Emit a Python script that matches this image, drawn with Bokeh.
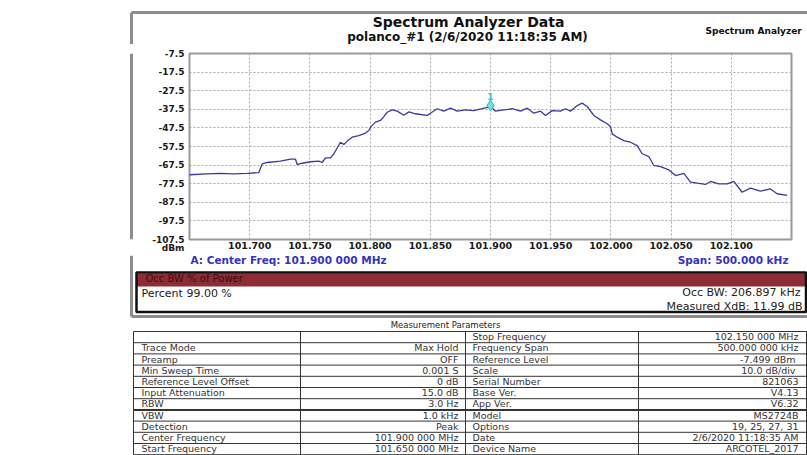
from bokeh.plotting import figure
from bokeh.models import FixedTicker, Range1d
from bokeh.layouts import column, row
from bokeh.embed import file_html
from bokeh.resources import INLINE
from bokeh.core.properties import value

# ---------------- data ----------------
freq_mhz = [101.650, 101.6647, 101.6757, 101.6868, 101.6979, 101.7076, 101.7104, 101.7145, 101.7256, 101.7339,
            101.7380, 101.7394, 101.7436, 101.7505, 101.7574, 101.7602, 101.7630, 101.7671, 101.7699, 101.7754,
            101.7782, 101.7810, 101.7851, 101.7906, 101.7962, 101.7989, 101.8009, 101.8045, 101.8086, 101.8114,
            101.8142, 101.8184, 101.8225, 101.8280, 101.8322, 101.8377, 101.8419, 101.8474, 101.8557, 101.8612,
            101.8668, 101.8723, 101.8792, 101.8861, 101.8931, 101.9000, 101.9042, 101.9111, 101.9180, 101.9249,
            101.9305, 101.9360, 101.9416, 101.9457, 101.9513, 101.9581, 101.9623, 101.9664, 101.9720, 101.9761,
            101.9803, 101.9858, 101.9913, 101.9969, 101.9996, 102.0011, 102.0052, 102.0107, 102.0163, 102.0218,
            102.0260, 102.0315, 102.0356, 102.0412, 102.0481, 102.0537, 102.0606, 102.0661, 102.0717, 102.0786,
            102.0827, 102.0896, 102.0966, 102.1021, 102.1090, 102.1159, 102.1242, 102.1325, 102.1381, 102.1464]
level_dbm = [-72.7, -72.2, -71.9, -72.2, -72.0, -71.5, -66.8, -66.1, -65.4, -64.3,
             -64.3, -67.2, -66.5, -65.7, -65.4, -66.1, -63.6, -63.6, -61.4, -55.2,
             -56.4, -54.6, -52.5, -51.6, -50.3, -48.9, -46.7, -44.4, -43.5, -41.4,
             -39.1, -37.8, -38.5, -40.7, -38.9, -39.9, -40.3, -40.8, -37.2, -38.5,
             -36.9, -38.5, -37.8, -38.2, -37.1, -36.0, -38.5, -37.8, -37.2, -38.5,
             -36.9, -39.6, -38.5, -40.8, -38.2, -38.5, -37.2, -38.5, -35.5, -34.2,
             -36.0, -40.8, -43.2, -45.3, -46.7, -50.7, -52.5, -54.3, -55.2, -57.0,
             -61.4, -62.9, -67.7, -68.3, -70.1, -73.1, -71.9, -76.7, -77.2, -77.9,
             -76.3, -77.6, -77.6, -76.2, -82.1, -79.9, -81.5, -80.3, -82.9, -83.8]
marker_freq = [101.900]
marker_level = [-35.5]
marker_names = ["1"]

x_ticks = [101.70, 101.75, 101.80, 101.85, 101.90, 101.95, 102.00, 102.05, 102.10]
y_ticks = [-7.5, -17.5, -27.5, -37.5, -47.5, -57.5, -67.5, -77.5, -87.5, -97.5, -107.5]
y_unit = "dBm"

title_text = "Spectrum Analyzer Data"
subtitle_text = "polanco_#1 (2/6/2020 11:18:35 AM)"
corner_text = "Spectrum Analyzer"
center_text = "A: Center Freq: 101.900 000 MHz"
span_text = "Span: 500.000 kHz"

occ_header = "Occ BW % of Power"
occ_percent = "Percent 99.00 %"
occ_bw = "Occ BW: 206.897 kHz"
occ_xdb = "Measured XdB: 11.99 dB"

table_title = "Measurement Parameters"
param_names_left = ["", "Trace Mode", "Preamp", "Min Sweep Time", "Reference Level Offset", "Input Attenuation",
                    "RBW", "VBW", "Detection", "Center Frequency", "Start Frequency"]
param_values_left = ["", "Max Hold", "OFF", "0.001 S", "0 dB", "15.0 dB",
                     "3.0 Hz", "1.0 kHz", "Peak", "101.900 000 MHz", "101.650 000 MHz"]
param_names_right = ["Stop Frequency", "Frequency Span", "Reference Level", "Scale", "Serial Number", "Base Ver.",
                     "App Ver.", "Model", "Options", "Date", "Device Name"]
param_values_right = ["102.150 000 MHz", "500.000 000 kHz", "-7.499  dBm", "10.0  dB/div", "821063", "V4.13",
                      "V6.32", "MS2724B", "19, 25, 27, 31", "2/6/2020 11:18:35 AM", "ARCOTEL_2017"]

FONT = "DejaVu Sans"
GRAY = "#8c8c8c"


def decor(w, h, x0, y0):
    f = figure(width=w, height=h, x_range=Range1d(x0, x0 + w), y_range=Range1d(y0 + h, y0),
               x_axis_type=None, y_axis_type=None, output_backend="svg", toolbar_location=None,
               min_border=0, min_border_left=0, min_border_right=0, min_border_top=0, min_border_bottom=0)
    f.outline_line_color = None
    f.background_fill_color = "white"
    f.border_fill_color = "white"
    return f


def txt(f, x, y, s, size="9px", color="#222222", align="left", style="normal"):
    f.text(x=[x], y=[y], text=[s], text_font=value(FONT), text_font_size=size, text_color=color,
           text_align=align, text_baseline="middle", text_font_style=style)


# ---------------- header ----------------
hd = decor(807, 44, 0, 0)
hd.line([131, 807], [12, 12], line_color=GRAY, line_width=3)
hd.line([131, 131], [12, 44], line_color=GRAY, line_width=3)
txt(hd, 468, 21, title_text, size="14px", color="#111111", align="center", style="bold")
txt(hd, 467, 36, subtitle_text, size="12px", color="#111111", align="center", style="bold")
txt(hd, 705, 30, corner_text, size="9px", color="#111111", style="bold")

# ---------------- left strip ----------------
ld = decor(145, 211, 0, 44)
ld.line([131, 131], [44, 255], line_color=GRAY, line_width=3)

# ---------------- chart ----------------
p = figure(width=662, height=211, x_range=Range1d(101.65, 102.15), y_range=Range1d(-107.5, -7.5),
           output_backend="svg", toolbar_location=None,
           min_border_left=44, min_border_right=16, min_border_top=9, min_border_bottom=16)
p.background_fill_color = "white"
p.border_fill_color = "white"
p.outline_line_color = "#9a9a9a"
p.outline_line_width = 2

p.xaxis.ticker = FixedTicker(ticks=x_ticks)
p.yaxis.ticker = FixedTicker(ticks=y_ticks)
for ax in (p.xaxis[0], p.yaxis[0]):
    ax.axis_line_color = None
    ax.major_tick_line_color = None
    ax.minor_tick_line_color = None
    ax.major_tick_out = 0
    ax.major_tick_in = 0
    ax.major_label_text_font = FONT
    ax.major_label_text_font_style = "bold"
    ax.major_label_text_color = "#1a1a1a"
p.xaxis.major_label_text_font_size = "9.5px"
p.yaxis.major_label_text_font_size = "9px"
p.yaxis.major_label_text_line_height = 0.88
p.xaxis.major_label_standoff = 2
p.yaxis.major_label_standoff = 5
p.xaxis.major_label_overrides = {t: f"{t:.3f}" for t in x_ticks}
ylab = {t: f"{t:.1f}" for t in y_ticks}
ylab[y_ticks[-1]] = f"\n{y_ticks[-1]:.1f}\n{y_unit}"
p.yaxis.major_label_overrides = ylab

for g in (p.xgrid[0], p.ygrid[0]):
    g.grid_line_color = "#a8a8a8"
    g.grid_line_dash = "2 2"
    g.grid_line_width = 1

p.line(freq_mhz, level_dbm, line_color="#3a3a9e", line_width=1.3)
p.scatter(marker_freq, marker_level, marker="diamond", size=11,
          fill_color="#6fe0e0", line_color="#2fb5c5", line_width=1)
p.text(marker_freq, [l + 5 for l in marker_level], text=marker_names,
       text_color="#2fc0c8", text_font=value(FONT), text_font_size="9px", text_font_style="bold",
       text_align="center", text_baseline="middle")

# ---------------- bottom part ----------------
bt = decor(807, 200, 0, 255)
bt.line([131, 131], [255, 316], line_color=GRAY, line_width=3)
bt.line([131, 807], [316, 316], line_color=GRAY, line_width=3)
txt(bt, 190, 259, center_text, size="10.5px", color="#3333c0", style="bold")
txt(bt, 788, 259, span_text, size="10.5px", color="#3333c0", align="right", style="bold")

# occupied bandwidth box
bt.quad(left=[136], right=[805], top=[273], bottom=[286], fill_color="#8c2c34", line_color=None)
bt.quad(left=[136], right=[805.5], top=[272], bottom=[311.5], fill_color=None, line_color="#111111", line_width=2.5)
txt(bt, 145, 277.5, occ_header, size="10px", color="#3e0e12")
txt(bt, 141, 292.5, occ_percent, size="11px", color="#222222")
txt(bt, 800, 291.5, occ_bw, size="11px", color="#222222", align="right")
txt(bt, 802, 306, occ_xdb, size="11px", color="#222222", align="right")

# measurement parameters table
txt(bt, 445, 324.5, table_title, size="8.5px", color="#222222", align="center")
TOP = 331
RH = 11.2
COLS = [133, 300, 465, 638, 806]
n = len(param_names_left)
for i in range(n + 1):
    y = TOP + i * RH
    bt.line([COLS[0], COLS[-1]], [y, y], line_color="#333333", line_width=2 if i == 7 else 1)
for x in COLS:
    bt.line([x, x], [TOP, TOP + n * RH], line_color="#333333", line_width=1)
for i in range(n):
    yc = TOP + (i + 0.5) * RH - 0.5
    txt(bt, 141, yc, param_names_left[i], size="9.5px", color="#333333")
    txt(bt, 458, yc, param_values_left[i], size="9.5px", color="#333333", align="right")
    txt(bt, 472, yc, param_names_right[i], size="9.5px", color="#333333")
    txt(bt, 798, yc, param_values_right[i], size="9.5px", color="#333333", align="right")

layout = column(hd, row(ld, p, spacing=0), bt, spacing=0)
open("out.html", "w").write(file_html(layout, INLINE))
